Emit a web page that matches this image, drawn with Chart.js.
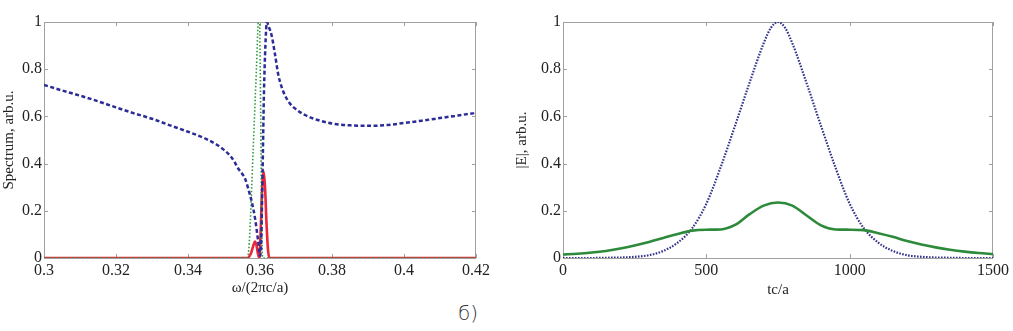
<!DOCTYPE html>
<html>
<head>
<meta charset="utf-8">
<script src="https://cdn.jsdelivr.net/npm/chart.js@4.4.1/dist/chart.umd.min.js"></script>
<style>
  body { margin: 0; background: #fff; width: 1013px; height: 331px; position: relative; overflow: hidden; }
  .box { position: absolute; top: 0; height: 300px; }
  #panelLabel { position: absolute; left: 458px; top: 301px; font: 300 20px "DejaVu Sans", sans-serif; color: #333; }
</style>
</head>
<body>
<div class="box" style="left:0;width:500px"><canvas id="spectrum" width="500" height="300"></canvas></div>
<div class="box" style="left:500px;width:513px"><canvas id="field" width="513" height="300"></canvas></div>
<div id="panelLabel">б)</div>
<script>
// Левый график: спектр
const omegaBlue = [0.300, 0.305, 0.310, 0.315, 0.320, 0.325, 0.330, 0.335, 0.340, 0.345, 0.348, 0.350, 0.352,
  0.353, 0.354, 0.355, 0.3558, 0.3568, 0.3577, 0.3586, 0.3595, 0.3600, 0.3603, 0.3607, 0.3611, 0.3615, 0.3619,
  0.3623, 0.3632, 0.3642, 0.3651, 0.3660, 0.3669, 0.3683, 0.3697, 0.3725, 0.376, 0.380, 0.385, 0.390, 0.395,
  0.400, 0.405, 0.410, 0.415, 0.420];
const specBlue = [0.733, 0.71, 0.688, 0.664, 0.638, 0.613, 0.59, 0.562, 0.535, 0.505, 0.48, 0.458, 0.428,
  0.405, 0.378, 0.358, 0.338, 0.29, 0.239, 0.17, 0.07, 0.01, 0.05, 0.35, 0.7, 0.9, 1.0,
  0.985, 0.945, 0.86, 0.775, 0.725, 0.69, 0.655, 0.634, 0.606, 0.585, 0.57, 0.562, 0.56, 0.563,
  0.572, 0.582, 0.593, 0.604, 0.615];

const omegaGreen = [0.300, 0.350, 0.3565, 0.3570, 0.3581, 0.3590, 0.3595, 0.3598, 0.3602, 0.3605, 0.3608, 0.365, 0.420];
const specGreen = [0, 0, 0, 0.06, 0.46, 0.8, 1.0, 1.05, 0.6, 0.1, 0, 0, 0];

const omegaRed = [0.300, 0.350, 0.3565, 0.3575, 0.3582, 0.3586, 0.3590, 0.3594, 0.3598, 0.3602, 0.3606,
  0.3610, 0.3614, 0.3618, 0.3622, 0.3626, 0.370, 0.420];
const specRed = [0, 0, 0, 0.02, 0.055, 0.07, 0.055, 0.02, 0, 0.12, 0.3,
  0.366, 0.3, 0.15, 0.04, 0, 0, 0];

// Правый график: поле во времени
const timeGreen = [0, 50, 100, 150, 200, 250, 300, 350, 400, 450, 500, 550, 600, 650, 700, 750,
  800, 850, 900, 950, 1000, 1050, 1100, 1150, 1200, 1250, 1300, 1350, 1400, 1450, 1500];
const fieldGreen = [0.015, 0.018, 0.023, 0.03, 0.04, 0.053, 0.068, 0.085, 0.102, 0.116, 0.12, 0.121, 0.14, 0.185, 0.222, 0.235,
  0.222, 0.18, 0.138, 0.121, 0.12, 0.118, 0.105, 0.09, 0.072, 0.057, 0.045, 0.035, 0.027, 0.021, 0.017];

const timeBlue = [0, 50, 100, 150, 200, 250, 300, 350, 400, 450, 500, 550, 600, 650, 700, 725, 750,
  775, 800, 850, 900, 950, 1000, 1050, 1100, 1150, 1200, 1250, 1300, 1350, 1400, 1450, 1500];
const fieldBlue = [0, 0, 0, 0.001, 0.002, 0.005, 0.012, 0.03, 0.065, 0.125, 0.23, 0.385, 0.56, 0.74, 0.91, 0.975, 1.0,
  0.975, 0.91, 0.74, 0.56, 0.385, 0.23, 0.125, 0.065, 0.03, 0.012, 0.005, 0.002, 0.001, 0, 0, 0];

const yTicks = [0, 0.2, 0.4, 0.6, 0.8, 1];

function pts(xs, ys) {
    return xs.map((x, i) => ({ x: x, y: ys[i] }));
}

const serif = "'Liberation Serif', 'Times New Roman', serif";
const ink = '#222';

// Рамка в стиле MATLAB с засечками внутрь
const framePlugin = {
    id: 'frame',
    beforeDatasetsDraw(chart) {
        const { ctx, chartArea: a, scales: { x, y } } = chart;
        ctx.save();
        ctx.strokeStyle = '#a0a0a0';
        ctx.lineWidth = 1;
        ctx.strokeRect(Math.round(a.left) + 0.5, Math.round(a.top) + 0.5,
            Math.round(a.width) - 1, Math.round(a.height));
        ctx.beginPath();
        x.ticks.forEach(t => {
            const px = Math.round(x.getPixelForValue(t.value)) + 0.5;
            ctx.moveTo(px, a.bottom); ctx.lineTo(px, a.bottom - 4);
            ctx.moveTo(px, a.top); ctx.lineTo(px, a.top + 4);
        });
        y.ticks.forEach(t => {
            const py = Math.round(y.getPixelForValue(t.value)) + 0.5;
            ctx.moveTo(a.left, py); ctx.lineTo(a.left + 4, py);
            ctx.moveTo(a.right, py); ctx.lineTo(a.right - 4, py);
        });
        ctx.stroke();
        ctx.restore();
    }
};

function makeOptions(cfg) {
    return {
        responsive: false,
        animation: false,
        layout: { padding: { left: 0, top: 22, right: cfg.padRight, bottom: 0 } },
        plugins: { legend: { display: false }, tooltip: { enabled: false } },
        elements: { point: { radius: 0 } },
        scales: {
            x: {
                type: 'linear',
                min: cfg.xMin, max: cfg.xMax,
                afterFit: s => { s.height = 42; },
                afterBuildTicks: s => { s.ticks = cfg.xTicks.map(v => ({ value: v })); },
                grid: { display: false, drawTicks: false },
                border: { display: false },
                ticks: {
                    padding: 3, color: ink, font: { family: serif, size: 16 },
                    maxRotation: 0, autoSkip: false,
                    callback: v => String(Number(v.toFixed(3)))
                },
                title: { display: true, text: cfg.xTitle, color: ink,
                    font: { family: serif, size: 15 }, padding: { top: 0, bottom: cfg.xTitlePad } }
            },
            y: {
                min: 0, max: 1,
                afterFit: s => { s.width = cfg.yWidth; },
                afterBuildTicks: s => { s.ticks = yTicks.map(v => ({ value: v })); },
                grid: { display: false, drawTicks: false },
                border: { display: false },
                ticks: {
                    padding: 2, color: ink, font: { family: serif, size: 16 },
                    callback: v => String(Number(v.toFixed(2)))
                },
                title: { display: true, text: cfg.yTitle, color: ink,
                    font: { family: serif, size: 15 }, padding: { top: cfg.yTitlePad, bottom: 0 } }
            }
        }
    };
}

new Chart(document.getElementById('spectrum'), {
    type: 'line',
    data: {
        datasets: [
            { data: pts(omegaBlue, specBlue), borderColor: '#2c2c96', borderWidth: 2.5,
              borderDash: [4, 2.5], cubicInterpolationMode: 'monotone' },
            { data: pts(omegaGreen, specGreen), borderColor: '#2a9a3c', borderWidth: 1.6,
              borderDash: [1.5, 2], cubicInterpolationMode: 'monotone' },
            { data: pts(omegaRed, specRed), borderColor: '#e8283a', borderWidth: 2.6,
              cubicInterpolationMode: 'monotone' }
        ]
    },
    options: makeOptions({
        padRight: 24, yWidth: 44, xMin: 0.3, xMax: 0.42,
        xTicks: [0.3, 0.32, 0.34, 0.36, 0.38, 0.4, 0.42],
        xTitle: 'ω/(2πc/a)', yTitle: 'Spectrum, arb.u.',
        xTitlePad: 3, yTitlePad: 0
    }),
    plugins: [framePlugin]
});

new Chart(document.getElementById('field'), {
    type: 'line',
    data: {
        datasets: [
            { data: pts(timeGreen, fieldGreen), borderColor: '#2d8a3a', borderWidth: 2.6,
              cubicInterpolationMode: 'monotone' },
            { data: pts(timeBlue, fieldBlue), borderColor: '#34348e', borderWidth: 2.2,
              borderDash: [1.6, 1.4], cubicInterpolationMode: 'monotone' }
        ]
    },
    options: makeOptions({
        padRight: 20, yWidth: 63, xMin: 0, xMax: 1500,
        xTicks: [0, 500, 1000, 1500],
        xTitle: 'tc/a', yTitle: '|E|, arb.u.',
        xTitlePad: 1, yTitlePad: 13
    }),
    plugins: [framePlugin]
});
</script>
</body>
</html>
